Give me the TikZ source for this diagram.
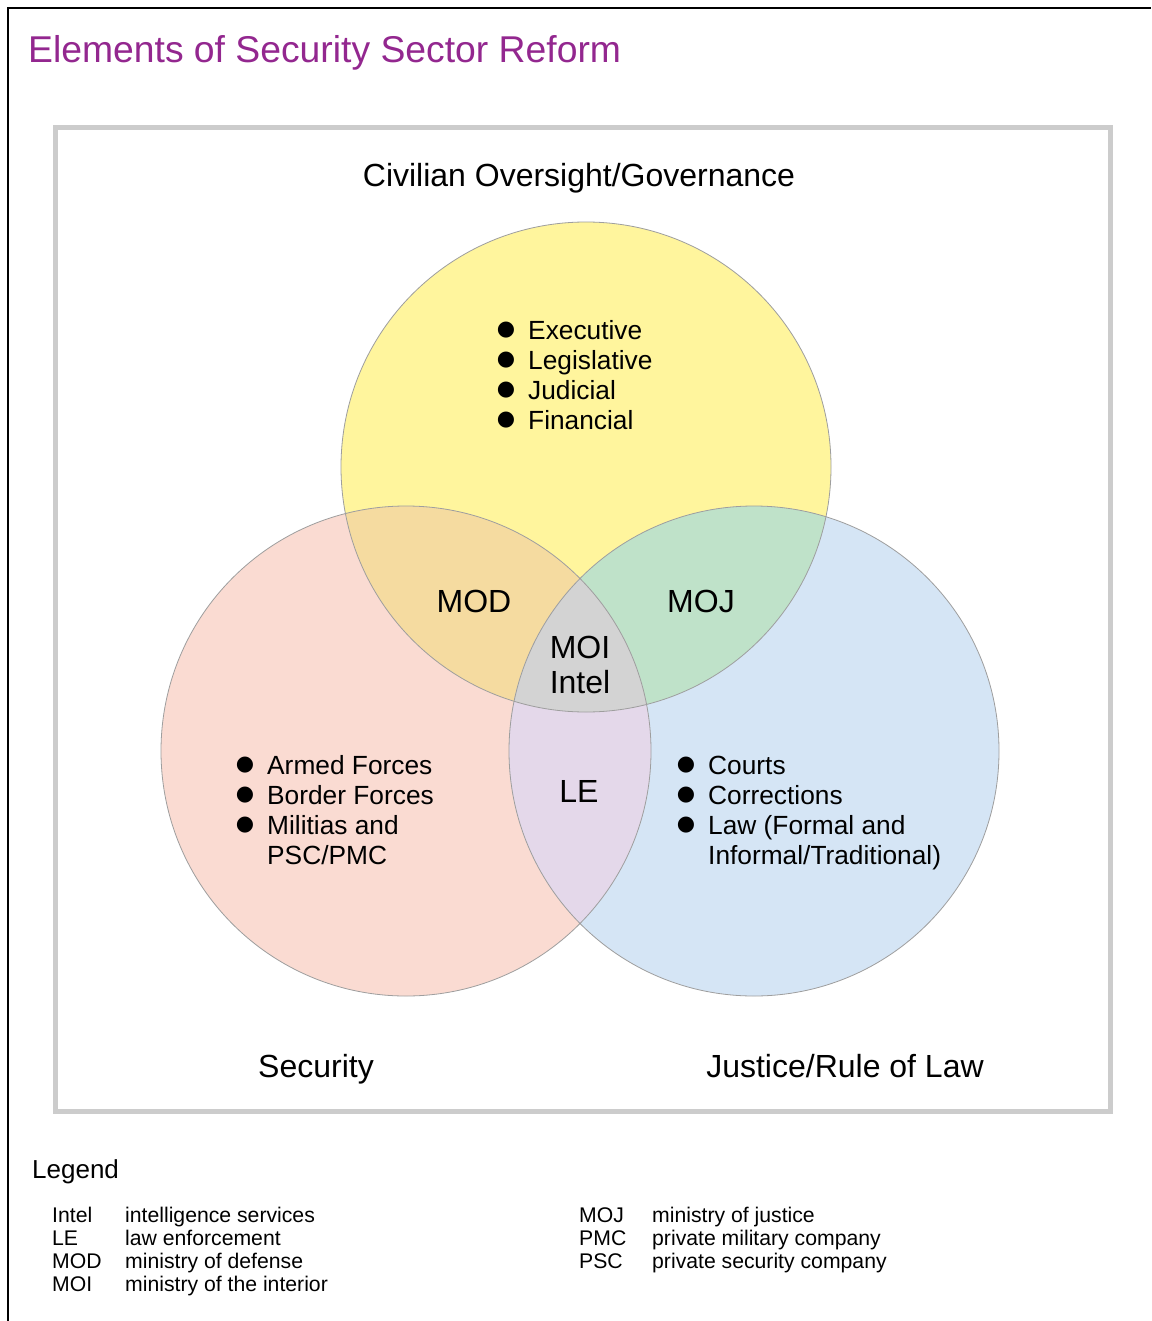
\documentclass[tikz,border=0pt]{standalone}
\usepackage{fontspec}
\setmainfont{Liberation Sans}
\newfontfamily\symfont{DejaVu Sans}
\usepackage{xcolor}
\usepackage{tikz}
\usetikzlibrary{calc,backgrounds}

\definecolor{ssrpurple}{HTML}{93278F}
\definecolor{govyellow}{HTML}{FFF59D}
\definecolor{secpink}{HTML}{FADBD2}
\definecolor{jusblue}{HTML}{D5E5F5}
\definecolor{modorange}{HTML}{F5DBA0}
\definecolor{mojgreen}{HTML}{BFE2C9}
\definecolor{lelilac}{HTML}{E4D8EA}
\definecolor{moigray}{HTML}{D3D3D3}
\definecolor{rimgray}{HTML}{9E9E9E}
\definecolor{boxgray}{HTML}{CCCCCC}

\newcommand{\bigbul}{\llap{\raisebox{3.5pt}{\symfont\fontsize{21}{21}\selectfont ●}\hspace{13pt}}}

\begin{document}
\begin{tikzpicture}[x=1pt,y=-1pt,
	lbl/.style={anchor=base, inner sep=0pt, font=\fontsize{32}{36}\selectfont},
	itm/.style={anchor=base west, inner sep=0pt, font=\fontsize{26.3}{30}\selectfont},
	key/.style={anchor=base west, inner sep=0pt, font=\fontsize{21.2}{24}\selectfont}]
	\useasboundingbox (0,0) rectangle (1151,1321);
	\fill[white] (0,0) rectangle (1151,1321);
	\draw[line width=2pt] (8,1321) -- (8,8) -- (1151,8);
	\node[anchor=base west, inner sep=0pt, text=ssrpurple, font=\fontsize{37.3}{40}\selectfont] (title) at (28,63) {Elements of Security Sector Reform};
	\draw[line width=5pt, boxgray] (55.5,127.5) rectangle (1110.5,1111.5);

	% the three circles
	\coordinate (gov) at (586,467);
	\coordinate (sec) at (406,751);
	\coordinate (jus) at (754,751);
	\fill[govyellow] (gov) circle (245pt);
	\fill[secpink] (sec) circle (245pt);
	\fill[jusblue] (jus) circle (245pt);
	\begin{scope}
		\clip (gov) circle (245pt);
		\fill[modorange] (sec) circle (245pt);
		\fill[mojgreen] (jus) circle (245pt);
		\clip (sec) circle (245pt);
		\fill[moigray] (jus) circle (245pt);
	\end{scope}
	\begin{scope}
		\clip (sec) circle (245pt);
		\fill[lelilac] (jus) circle (245pt);
		\clip (jus) circle (245pt);
		\fill[moigray] (gov) circle (245pt);
	\end{scope}
	\draw[rimgray, line width=0.8pt] (gov) circle (245pt) (sec) circle (245pt) (jus) circle (245pt);

	% labels
	\node[lbl] (civ) at (579,187) {Civilian Oversight/Governance};
	\node[lbl] (secl) at (316,1077) {Security};
	\node[lbl] (jusl) at (845,1077) {Justice/Rule of Law};
	\node[lbl] (mod) at (474,612) {MOD};
	\node[lbl] (moj) at (701,612) {MOJ};
	\node[lbl] (moi) at (580,658) {MOI};
	\node[lbl] (intel) at (580,693) {Intel};
	\node[lbl] (le) at (579,802) {LE};

	\foreach \t [count=\i] in {Executive,Legislative,Judicial,Financial}
		\node[itm] (gov\i) at (528,{339+30*(\i-1)}) {\bigbul\t};
	\foreach \t [count=\i] in {Armed Forces,Border Forces,Militias and}
		\node[itm] (sec\i) at (267,{774+30*(\i-1)}) {\bigbul\t};
	\node[itm] (sec4) at (267,864) {PSC/PMC};
	\foreach \t [count=\i] in {Courts,Corrections,Law (Formal and}
		\node[itm] (jus\i) at (708,{774+30*(\i-1)}) {\bigbul\t};
	\node[itm] (jus4) at (708,864) {Informal/Traditional)};

	% legend
	\node[anchor=base west, inner sep=0pt, font=\fontsize{26}{30}\selectfont] (legend) at (32,1178) {Legend};
	\foreach \a/\b [count=\i] in {Intel/intelligence services,LE/law enforcement,MOD/ministry of defense,MOI/ministry of the interior}{
		\node[key] (ka\i) at (52,{1222+23.3*(\i-1)}) {\a};
		\node[key] (kb\i) at (125,{1222+23.3*(\i-1)}) {\b};
	}
	\foreach \a/\b [count=\i] in {MOJ/ministry of justice,PMC/private military company,PSC/private security company}{
		\node[key] (kc\i) at (579,{1222+23.3*(\i-1)}) {\a};
		\node[key] (kd\i) at (652,{1222+23.3*(\i-1)}) {\b};
	}
\end{tikzpicture}
\end{document}
